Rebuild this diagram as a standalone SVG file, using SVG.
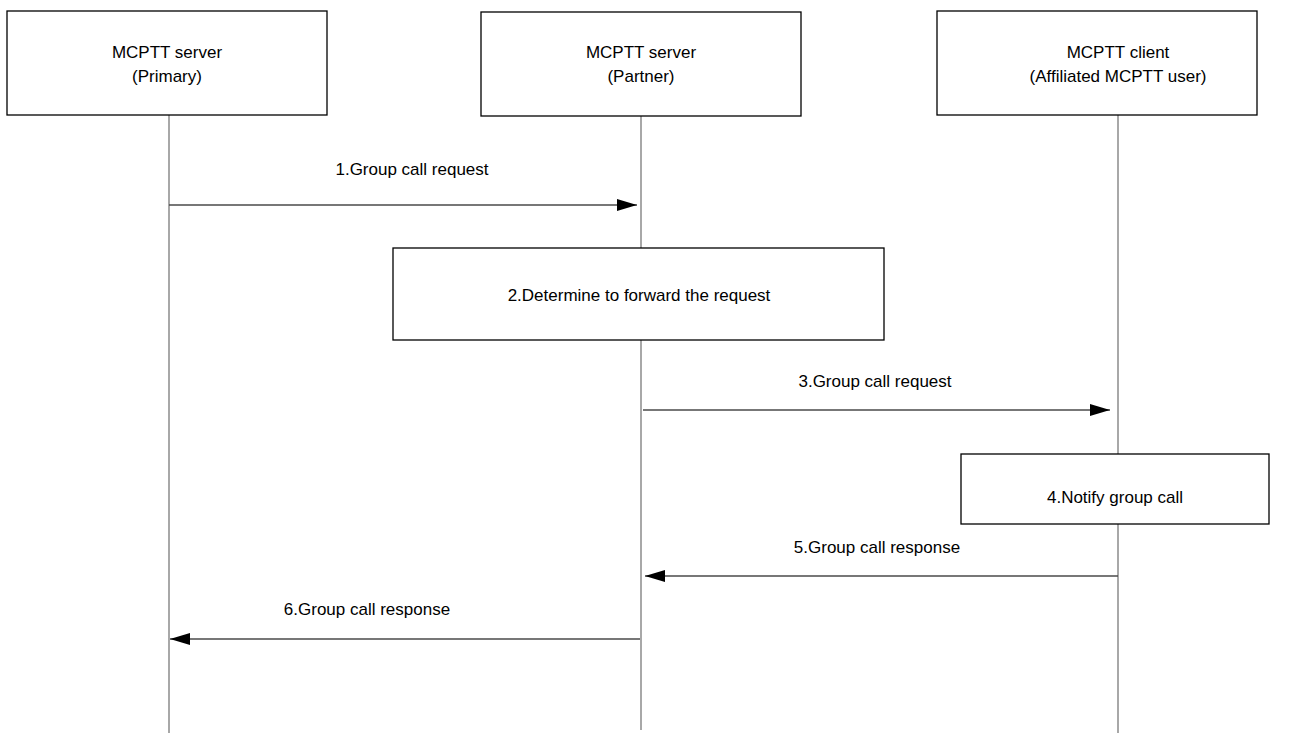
<svg xmlns="http://www.w3.org/2000/svg" width="1293" height="733" viewBox="0 0 1293 733">
<defs>
<style>
.box{fill:#fff;stroke:#000;stroke-width:1.3}
.life{stroke:#6e6e6e;stroke-width:1.2;fill:none}
.msg{stroke:#4a4a4a;stroke-width:1.3;fill:none}
text{font-family:"Liberation Sans",Arial,sans-serif;font-size:17px;fill:#000;text-anchor:middle}
</style>
<marker id="ah" viewBox="0 0 20 12" refX="20" refY="6" markerWidth="20" markerHeight="12" markerUnits="userSpaceOnUse" orient="auto">
<path d="M0,0 L20,6 L0,12 Z" fill="#000"/>
</marker>
</defs>
<g id="lifelines">
<line class="life" x1="169" y1="115" x2="169" y2="733"/>
<line class="life" x1="641" y1="116" x2="641" y2="248"/>
<line class="life" x1="641" y1="340" x2="641" y2="730"/>
<line class="life" x1="1118" y1="115" x2="1118" y2="454"/>
<line class="life" x1="1118" y1="524" x2="1118" y2="733"/>
</g>
<g id="primary">
<rect class="box" x="7" y="11" width="320" height="104"/>
<text x="167" y="58">MCPTT server</text>
<text x="167" y="82">(Primary)</text>
</g>
<g id="partner">
<rect class="box" x="481" y="12" width="320" height="104"/>
<text x="641" y="58">MCPTT server</text>
<text x="641" y="82">(Partner)</text>
</g>
<g id="client">
<rect class="box" x="937" y="11" width="320" height="104"/>
<text x="1118" y="58">MCPTT client</text>
<text x="1118" y="82">(Affiliated MCPTT user)</text>
</g>
<g id="determine">
<rect class="box" x="393" y="248" width="491" height="92"/>
<text x="639" y="301">2.Determine to forward the request</text>
</g>
<g id="notify">
<rect class="box" x="961" y="454" width="308" height="70"/>
<text x="1115" y="503">4.Notify group call</text>
</g>
<g id="connectors">
<line class="msg" x1="169" y1="205" x2="637" y2="205" marker-end="url(#ah)"/>
<text x="412" y="175">1.Group call request</text>
<line class="msg" x1="643" y1="410" x2="1110" y2="410" marker-end="url(#ah)"/>
<text x="875" y="387">3.Group call request</text>
<line class="msg" x1="1118" y1="576" x2="645" y2="576" marker-end="url(#ah)"/>
<text x="877" y="553">5.Group call response</text>
<line class="msg" x1="640" y1="639" x2="170" y2="639" marker-end="url(#ah)"/>
<text x="367" y="615">6.Group call response</text>
</g>
</svg>
